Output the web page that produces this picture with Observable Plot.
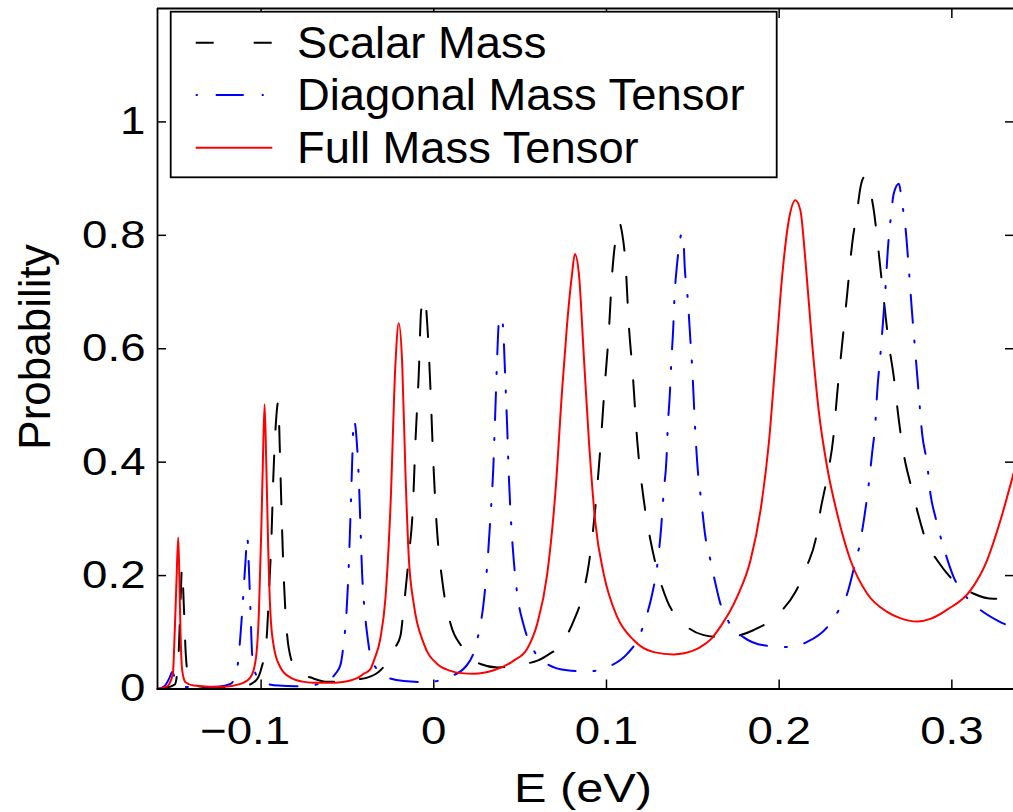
<!DOCTYPE html>
<html><head><meta charset="utf-8">
<script src="https://cdn.jsdelivr.net/npm/d3@7"></script>
<script src="https://cdn.jsdelivr.net/npm/@observablehq/plot@0.6"></script>
<style>
html,body{margin:0;padding:0;background:#fff;overflow:hidden;}
#chart{position:relative;width:1013px;height:812px;}
</style></head><body><div id="chart"></div>
<script>
// ---- data ----
const seriesNames = ["Scalar Mass", "Diagonal Mass Tensor", "Full Mass Tensor"];
const seriesColors = ["#000000", "#0000ff", "#ff0000"];

const scalarE = [-0.160,-0.155,-0.150,-0.1480,-0.1468,-0.1458,-0.1448,-0.1436,-0.1420,-0.1400,-0.1300,-0.1200,-0.1100,-0.1030,-0.1000,-0.0969,-0.0953,-0.0940,-0.0930,-0.0917,-0.0901,-0.0892,-0.0884,-0.0872,-0.0859,-0.0840,-0.0800,-0.0772,-0.0700,-0.0627,-0.0550,-0.0511,-0.0440,-0.0386,-0.0320,-0.0270,-0.0222,-0.0193,-0.0174,-0.0145,-0.0121,-0.0106,-0.0087,-0.0073,-0.0052,-0.0038,-0.0019,-0.0004,0.0016,0.0049,0.0097,0.0164,0.0270,0.0367,0.0444,0.0541,0.0600,0.0670,0.0734,0.0811,0.0859,0.0898,0.0936,0.0965,0.0988,0.1013,0.1033,0.1052,0.1075,0.1091,0.1110,0.1129,0.1152,0.1178,0.1216,0.1255,0.1294,0.1351,0.1448,0.1563,0.1650,0.1737,0.1853,0.2008,0.2094,0.2162,0.2210,0.2239,0.2278,0.2316,0.2336,0.2365,0.2394,0.2423,0.2452,0.2471,0.2494,0.2519,0.2548,0.2577,0.2606,0.2635,0.2664,0.2693,0.2721,0.2760,0.2799,0.2857,0.2915,0.3011,0.3127,0.3243,0.3357];
const scalarP = [0.000,0.002,0.008,0.050,0.140,0.214,0.150,0.060,0.020,0.008,0.003,0.003,0.005,0.015,0.035,0.086,0.180,0.268,0.368,0.456,0.506,0.427,0.338,0.221,0.135,0.072,0.035,0.028,0.019,0.013,0.013,0.014,0.017,0.020,0.030,0.047,0.074,0.094,0.144,0.233,0.321,0.438,0.556,0.668,0.690,0.644,0.527,0.409,0.292,0.191,0.115,0.074,0.044,0.038,0.040,0.045,0.050,0.062,0.077,0.121,0.162,0.221,0.321,0.427,0.527,0.627,0.733,0.791,0.822,0.803,0.752,0.644,0.556,0.438,0.333,0.262,0.209,0.156,0.115,0.095,0.092,0.093,0.104,0.136,0.171,0.218,0.262,0.315,0.374,0.450,0.521,0.609,0.697,0.786,0.844,0.885,0.903,0.888,0.844,0.768,0.686,0.609,0.550,0.474,0.415,0.362,0.315,0.256,0.227,0.191,0.168,0.159,0.163];

const diagE = [-0.160,-0.156,-0.153,-0.1515,-0.150,-0.148,-0.145,-0.135,-0.125,-0.1177,-0.1138,-0.1119,-0.1104,-0.1090,-0.1080,-0.1071,-0.1061,-0.1052,-0.1032,-0.0994,-0.0900,-0.0800,-0.0700,-0.0637,-0.0569,-0.0540,-0.0522,-0.0506,-0.0492,-0.0482,-0.0473,-0.0463,-0.0444,-0.0434,-0.0424,-0.0415,-0.0401,-0.0386,-0.0367,-0.0330,-0.0280,-0.0174,-0.0038,0.0078,0.0189,0.0251,0.0290,0.0313,0.0328,0.0344,0.0357,0.0367,0.0378,0.0395,0.0405,0.0415,0.0425,0.0434,0.0448,0.0463,0.0483,0.0521,0.0579,0.0657,0.0772,0.0888,0.1023,0.1120,0.1187,0.1236,0.1265,0.1290,0.1317,0.1332,0.1347,0.1355,0.1367,0.1375,0.1386,0.1394,0.1409,0.1423,0.1434,0.1446,0.1453,0.1471,0.1486,0.1496,0.1515,0.1534,0.1544,0.1573,0.1602,0.1631,0.1660,0.1708,0.1795,0.1911,0.2046,0.2162,0.2278,0.2345,0.2394,0.2432,0.2461,0.2490,0.2519,0.2538,0.2558,0.2567,0.2587,0.2602,0.2616,0.2629,0.2645,0.2664,0.2693,0.2712,0.2731,0.2750,0.2770,0.2789,0.2808,0.2828,0.2857,0.2876,0.2905,0.2924,0.2963,0.3011,0.3069,0.3147,0.3262,0.3357];
const diagP = [0.000,0.005,0.020,0.030,0.020,0.008,0.004,0.003,0.004,0.009,0.038,0.097,0.162,0.227,0.268,0.215,0.133,0.062,0.027,0.012,0.006,0.005,0.007,0.012,0.027,0.043,0.080,0.133,0.221,0.309,0.397,0.475,0.427,0.368,0.280,0.203,0.140,0.097,0.059,0.035,0.022,0.014,0.012,0.020,0.041,0.086,0.156,0.233,0.303,0.386,0.497,0.585,0.650,0.656,0.615,0.539,0.462,0.380,0.292,0.227,0.168,0.112,0.068,0.044,0.033,0.031,0.041,0.062,0.091,0.133,0.168,0.209,0.286,0.350,0.403,0.462,0.521,0.574,0.633,0.691,0.750,0.786,0.803,0.790,0.745,0.686,0.615,0.568,0.450,0.368,0.344,0.268,0.227,0.186,0.150,0.118,0.091,0.077,0.074,0.083,0.109,0.139,0.168,0.212,0.247,0.297,0.362,0.415,0.474,0.521,0.592,0.650,0.709,0.774,0.827,0.874,0.891,0.856,0.815,0.744,0.662,0.592,0.521,0.450,0.397,0.344,0.303,0.280,0.239,0.197,0.168,0.144,0.121,0.108];

const fullE = [-0.160,-0.155,-0.1534,-0.1511,-0.1500,-0.1490,-0.1480,-0.1473,-0.1467,-0.1457,-0.1438,-0.1390,-0.1300,-0.1216,-0.1119,-0.1061,-0.1032,-0.1013,-0.0999,-0.0990,-0.0980,-0.0970,-0.0959,-0.0946,-0.0926,-0.0888,-0.0830,-0.0760,-0.0700,-0.0600,-0.0540,-0.0483,-0.0444,-0.0405,-0.0367,-0.0347,-0.0309,-0.0280,-0.0251,-0.0222,-0.0203,-0.0183,-0.0164,-0.0145,-0.0116,-0.0058,0.0020,0.0097,0.0160,0.0232,0.0347,0.0463,0.0541,0.0599,0.0657,0.0705,0.0743,0.0772,0.0801,0.0817,0.0840,0.0869,0.0898,0.0936,0.0984,0.1062,0.1158,0.1274,0.1390,0.1450,0.1505,0.1544,0.1602,0.1660,0.1757,0.1834,0.1892,0.1940,0.1979,0.2017,0.2056,0.2094,0.2123,0.2152,0.2191,0.2229,0.2278,0.2336,0.2413,0.2510,0.2625,0.2700,0.2799,0.2880,0.2973,0.3108,0.3204,0.3281,0.3357];
const fullP = [0.000,0.004,0.008,0.027,0.103,0.191,0.267,0.191,0.103,0.033,0.012,0.006,0.004,0.004,0.009,0.021,0.050,0.133,0.280,0.397,0.502,0.397,0.250,0.133,0.074,0.038,0.020,0.013,0.011,0.011,0.012,0.015,0.019,0.027,0.035,0.050,0.090,0.160,0.321,0.574,0.645,0.574,0.380,0.233,0.150,0.080,0.044,0.032,0.028,0.027,0.033,0.050,0.071,0.115,0.203,0.350,0.527,0.644,0.733,0.767,0.733,0.586,0.439,0.292,0.203,0.127,0.086,0.065,0.061,0.063,0.068,0.074,0.087,0.110,0.163,0.227,0.315,0.433,0.580,0.727,0.827,0.862,0.844,0.756,0.609,0.491,0.391,0.309,0.227,0.168,0.136,0.125,0.119,0.124,0.140,0.174,0.227,0.297,0.380];

const xTicks = [-0.1, 0, 0.1, 0.2, 0.3];
const yTicks = [0, 0.2, 0.4, 0.6, 0.8, 1];
const xDomain = [-0.16, 0.3357];
const yDomain = [0, 1.2];
const xLabel = "E (eV)";
const yLabel = "Probability";

const toRows = (E, P) => E.map((e, i) => ({E: e, P: P[i]}));
const scalar = toRows(scalarE, scalarP);
const diag = toRows(diagE, diagP);
const full = toRows(fullE, fullP);

const FONT = '"Liberation Sans", Arial, Helvetica, sans-serif';
const fmt = d3.format("~g");

const plot = Plot.plot({
  width: 1013, height: 812,
  marginLeft: 157, marginRight: 0, marginTop: 8, marginBottom: 123.5,
  style: {fontFamily: FONT, fontSize: "39px", background: "white", color: "black", overflow: "hidden"},
  x: {domain: xDomain},
  y: {domain: yDomain},
  marks: [
    Plot.line(scalar, {x: "E", y: "P", stroke: seriesColors[0], strokeWidth: 2, strokeDasharray: "26,26", curve: "monotone-x"}),
    Plot.line(diag, {x: "E", y: "P", stroke: seriesColors[1], strokeWidth: 2, strokeDasharray: "28,18,2,18", curve: "monotone-x"}),
    Plot.line(full, {x: "E", y: "P", stroke: seriesColors[2], strokeWidth: 2, curve: "monotone-x"}),
    // frame lines
    Plot.ruleX([xDomain[0]], {strokeWidth: 1.8}),
    Plot.ruleY([yDomain[0]], {strokeWidth: 1.8}),
    Plot.ruleY([yDomain[1]], {strokeWidth: 1.8}),
    // inward ticks
    Plot.axisX(xTicks, {anchor: "bottom", tickSize: -9, text: null, label: null, strokeWidth: 1.5}),
    Plot.axisX(xTicks, {anchor: "top", tickSize: -9, text: null, label: null, strokeWidth: 1.5}),
    Plot.axisY(yTicks, {anchor: "left", tickSize: -9, text: null, label: null, strokeWidth: 1.5}),
    Plot.axisY(yTicks, {anchor: "right", tickSize: -9, text: null, label: null, strokeWidth: 1.5}),
    // tick labels
    Plot.axisX(xTicks, {anchor: "bottom", tickSize: 0, tickPadding: 27, label: null, tickFormat: fmt}),
    Plot.axisY(yTicks, {anchor: "left", tickSize: 0, tickPadding: 12, label: null, tickFormat: fmt})
  ]
});
document.getElementById("chart").appendChild(plot);

const svg = d3.select(plot);
// widen tick labels to match the reference lettering
svg.selectAll('g[aria-label="x-axis tick label"] text, g[aria-label="y-axis tick label"] text').each(function() {
  const w = this.getComputedTextLength();
  this.setAttribute("textLength", (w * 1.17).toFixed(1));
  this.setAttribute("lengthAdjust", "spacingAndGlyphs");
  if (this.textContent.startsWith("\u2212")) this.setAttribute("dx", "-16");
});

// axis titles
svg.append("text").attr("x", 583).attr("y", 802).attr("text-anchor", "middle")
  .attr("font-family", FONT).attr("font-size", 40).attr("fill", "black")
  .attr("textLength", 138).attr("lengthAdjust", "spacingAndGlyphs").text(xLabel);
svg.append("text").attr("transform", "translate(50,347) rotate(-90)").attr("text-anchor", "middle")
  .attr("font-family", FONT).attr("font-size", 44).attr("fill", "black").text(yLabel);

// legend box (inside the axes, top-left)
const lg = svg.append("g").attr("aria-label", "legend").attr("text-anchor", "start");
lg.append("rect").attr("x", 170.7).attr("y", 11.7).attr("width", 606).attr("height", 165.6)
  .attr("fill", "white").attr("stroke", "black").attr("stroke-width", 1.8);
const rowY = [42.7, 95, 147.7];
const legendDash = ["18,40", "2,18,28,18,2,60", null];
seriesNames.forEach((name, i) => {
  const l = lg.append("line").attr("x1", 195.7).attr("x2", 272.3).attr("y1", rowY[i]).attr("y2", rowY[i])
    .attr("stroke", seriesColors[i]).attr("stroke-width", 2);
  if (legendDash[i]) l.attr("stroke-dasharray", legendDash[i]);
  const t = lg.append("text").attr("x", 297).attr("y", rowY[i] + 15).attr("text-anchor", "start")
    .attr("font-family", FONT).attr("font-size", 44).attr("fill", "black").text(name);
  const w = t.node().getComputedTextLength();
  t.attr("textLength", (w * 1.03).toFixed(1)).attr("lengthAdjust", "spacingAndGlyphs");
});
</script></body></html>
